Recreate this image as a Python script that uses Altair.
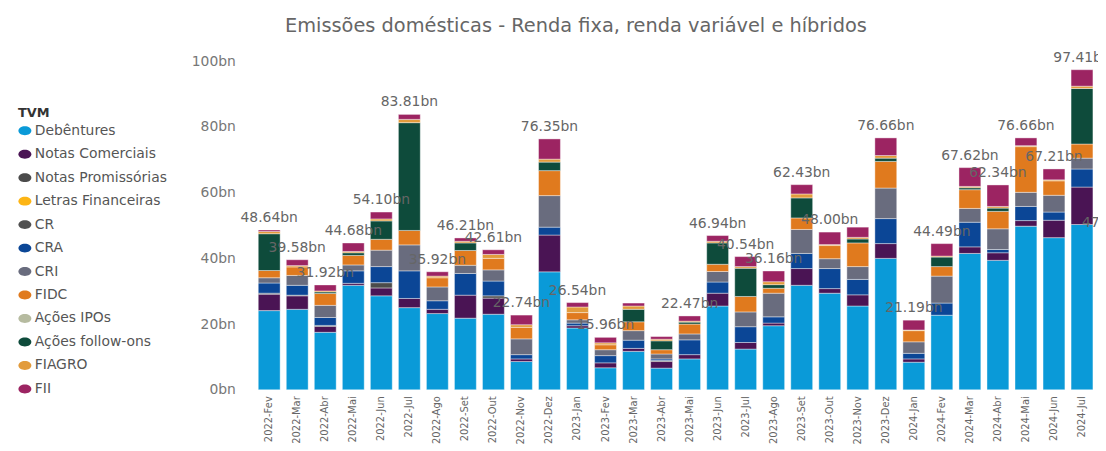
import altair as alt
import pandas as pd

months = ["2022-Fev", "2022-Mar", "2022-Abr", "2022-Mai", "2022-Jun", "2022-Jul", "2022-Ago",
          "2022-Set", "2022-Out", "2022-Nov", "2022-Dez", "2023-Jan", "2023-Fev", "2023-Mar",
          "2023-Abr", "2023-Mai", "2023-Jun", "2023-Jul", "2023-Ago", "2023-Set", "2023-Out",
          "2023-Nov", "2023-Dez", "2024-Jan", "2024-Fev", "2024-Mar", "2024-Abr", "2024-Mai",
          "2024-Jun", "2024-Jul"]

series = ["Debêntures", "Notas Comerciais", "Notas Promissórias", "Letras Financeiras", "CR",
          "CRA", "CRI", "FIDC", "Ações IPOs", "Ações follow-ons", "FIAGRO", "FII"]

colors = ["#0A9AD8", "#4A1454", "#4B4B4B", "#FDB515", "#505050", "#0B4696", "#696C7E",
          "#E07A1E", "#B6BBA0", "#0E4B3B", "#E29B3C", "#9C2462"]

debentures = [24.1, 24.5, 17.5, 31.8, 28.6, 25.0, 23.2, 21.8, 23.0, 8.6, 35.9, 18.8, 6.7, 11.7, 6.6,
              9.4, 25.5, 12.4, 19.5, 31.8, 29.4, 25.5, 40.0, 8.4, 22.7, 41.5, 39.4, 49.8, 46.3, 50.3]
notas_comerciais = [5.0, 4.1, 1.8, 0.6, 2.4, 2.8, 1.3, 7.0, 4.9, 0.8, 11.2, 0.7, 1.5, 0.9, 2.0,
                    1.3, 3.9, 2.0, 0.8, 5.1, 1.4, 3.4, 4.5, 1.0, 0.0, 2.0, 2.3, 1.7, 5.3, 11.4]
notas_promissorias = [0.3, 0.2, 0.3, 0.0, 1.6, 0.0, 0.0, 0.0, 0.7, 0.0, 0.0, 0.0, 0.0, 0.0, 0.3,
                      0.0, 0.0, 0.0, 0.0, 0.0, 0.0, 0.0, 0.0, 0.0, 0.0, 0.0, 0.0, 0.0, 0.0, 0.0]
letras_financeiras = [0.0] * 30
cr = [0.0] * 30
cra = [3.1, 3.0, 2.4, 3.8, 4.9, 8.4, 2.6, 6.6, 4.5, 1.3, 2.4, 0.8, 2.2, 2.5, 0.5,
       4.5, 3.4, 4.8, 1.9, 4.6, 6.1, 4.7, 7.6, 1.7, 3.7, 7.5, 1.0, 4.3, 2.5, 5.5]
cri = [1.6, 3.0, 3.7, 1.8, 5.0, 7.9, 4.2, 2.5, 3.4, 4.8, 9.6, 1.0, 1.8, 2.9, 1.5,
       1.8, 3.2, 4.5, 7.2, 7.3, 3.0, 3.9, 9.3, 3.5, 8.2, 4.2, 6.3, 4.3, 5.1, 3.3]
fidc = [2.2, 2.6, 3.6, 2.9, 3.3, 4.4, 2.8, 4.5, 3.5, 3.5, 7.6, 2.2, 1.5, 2.7, 1.3,
        3.0, 2.2, 4.7, 1.5, 3.5, 4.0, 7.2, 8.1, 3.4, 2.9, 5.7, 5.3, 13.9, 4.4, 4.3]
acoes_ipos = [0.0] * 30
acoes_follow_ons = [11.2, 0.0, 0.5, 0.8, 5.6, 32.8, 0.0, 2.3, 0.0, 0.0, 2.6, 0.0, 0.0, 3.8, 2.7,
                    0.6, 6.5, 8.6, 1.1, 6.1, 0.0, 1.2, 1.0, 0.0, 2.9, 0.6, 1.0, 0.0, 0.0, 16.9]
fiagro = [0.7, 0.4, 0.3, 0.4, 0.6, 1.0, 0.5, 0.5, 1.2, 0.8, 0.9, 1.7, 0.6, 1.0, 0.5,
          0.3, 0.5, 0.5, 0.9, 1.2, 0.3, 0.5, 0.8, 0.2, 0.3, 0.4, 0.5, 0.3, 0.3, 0.7]
fii = [0.44, 1.78, 1.82, 2.58, 2.10, 1.51, 1.32, 1.01, 1.41, 2.94, 6.15, 1.34, 1.66, 0.9, 0.8,
       1.57, 1.74, 3.04, 3.26, 2.83, 3.80, 3.1, 5.36, 2.99, 3.79, 5.72, 6.54, 2.36, 3.31, 5.01]

# months whose total carries a data label in the original
labeled_months = ["2022-Fev", "2022-Mar", "2022-Abr", "2022-Mai", "2022-Jun", "2022-Jul",
                  "2022-Ago", "2022-Set", "2022-Out", "2022-Nov", "2022-Dez", "2023-Jan",
                  "2023-Fev", "2023-Mai", "2023-Jun", "2023-Jul", "2023-Ago", "2023-Set",
                  "2023-Out", "2023-Dez", "2024-Jan", "2024-Fev", "2024-Mar", "2024-Abr",
                  "2024-Mai", "2024-Jun", "2024-Jul"]

# stray overlapping label visible at the right edge
extra_label_month = ["2024-Jul"]
extra_label_value = [50.3]
extra_label_text = ["47.31bn"]

all_values = [debentures, notas_comerciais, notas_promissorias, letras_financeiras, cr, cra, cri,
              fidc, acoes_ipos, acoes_follow_ons, fiagro, fii]

rows = []
for i, (name, vals) in enumerate(zip(series, all_values)):
    for m, v in zip(months, vals):
        if v > 0:
            rows.append({"month": m, "tvm": name, "idx": i, "value": v})
df = pd.DataFrame(rows)

extra = pd.DataFrame({"month": extra_label_month, "value": extra_label_value, "lbl": extra_label_text})

FONT = "DejaVu Sans"
ellipse = "M-1,0 A1,0.69 0 1,0 1,0 A1,0.69 0 1,0 -1,0 Z"

x_enc = alt.X("month:N", sort=months,
              scale=alt.Scale(paddingInner=0.22, paddingOuter=0.11),
              axis=alt.Axis(title=None, labelAngle=270, labelFontSize=10, labelFont=FONT,
                            labelColor="#666", domain=False, ticks=False, labelPadding=6))

bars = alt.Chart(df).mark_bar(stroke="white", strokeWidth=0.4).encode(
    x=x_enc,
    y=alt.Y("value:Q", stack="zero",
            scale=alt.Scale(domain=[0, 100], nice=False),
            axis=alt.Axis(title=None, values=[0, 20, 40, 60, 80, 100],
                          labelExpr="datum.value + 'bn'", grid=False, domain=False, ticks=False,
                          labelPadding=20, labelFontSize=14, labelFont=FONT, labelColor="#777")),
    color=alt.Color("tvm:N", scale=alt.Scale(domain=series, range=colors),
                    legend=alt.Legend(orient="none", legendX=-239, legendY=46, title="TVM",
                                      titleFont=FONT, titleFontSize=13, titleFontWeight="bold",
                                      titleColor="#333", titlePadding=4, labelFont=FONT,
                                      labelFontSize=14, labelColor="#555", symbolType=ellipse,
                                      symbolSize=169, symbolStrokeWidth=0, rowPadding=9.65,
                                      labelOffset=3, padding=0, symbolOpacity=1)),
    order=alt.Order("idx:Q", sort="ascending"),
)

labels = alt.Chart(df).transform_filter(
    alt.FieldOneOfPredicate(field="month", oneOf=labeled_months)
).transform_aggregate(
    total="sum(value)", groupby=["month"]
).transform_calculate(
    lbl="format(datum.total, '.2f') + 'bn'"
).mark_text(baseline="alphabetic", dy=-8, fontSize=14, font=FONT, color="#666").encode(
    x=alt.X("month:N", sort=months),
    y=alt.Y("total:Q"),
    text="lbl:N",
)

extra_text = alt.Chart(extra).mark_text(baseline="alphabetic", align="left", dx=0, dy=2,
                                        fontSize=14, font=FONT, color="#666").encode(
    x=alt.X("month:N", sort=months),
    y=alt.Y("value:Q"),
    text="lbl:N",
)

chart = alt.layer(bars, labels, extra_text).properties(
    width=847,
    height=331,
    autosize=alt.AutoSizeParams(type="none"),
    padding={"left": 249, "top": 52, "right": 2, "bottom": 54},
    title=alt.TitleParams("Emissões domésticas - Renda fixa, renda variável e híbridos",
                          anchor="start", frame="group", dx=30, fontSize=19.5, font=FONT,
                          fontWeight="normal", color="#666", offset=14),
).configure_view(strokeWidth=0)

chart.save("out.html", embed_options={"renderer": "svg", "actions": False})
